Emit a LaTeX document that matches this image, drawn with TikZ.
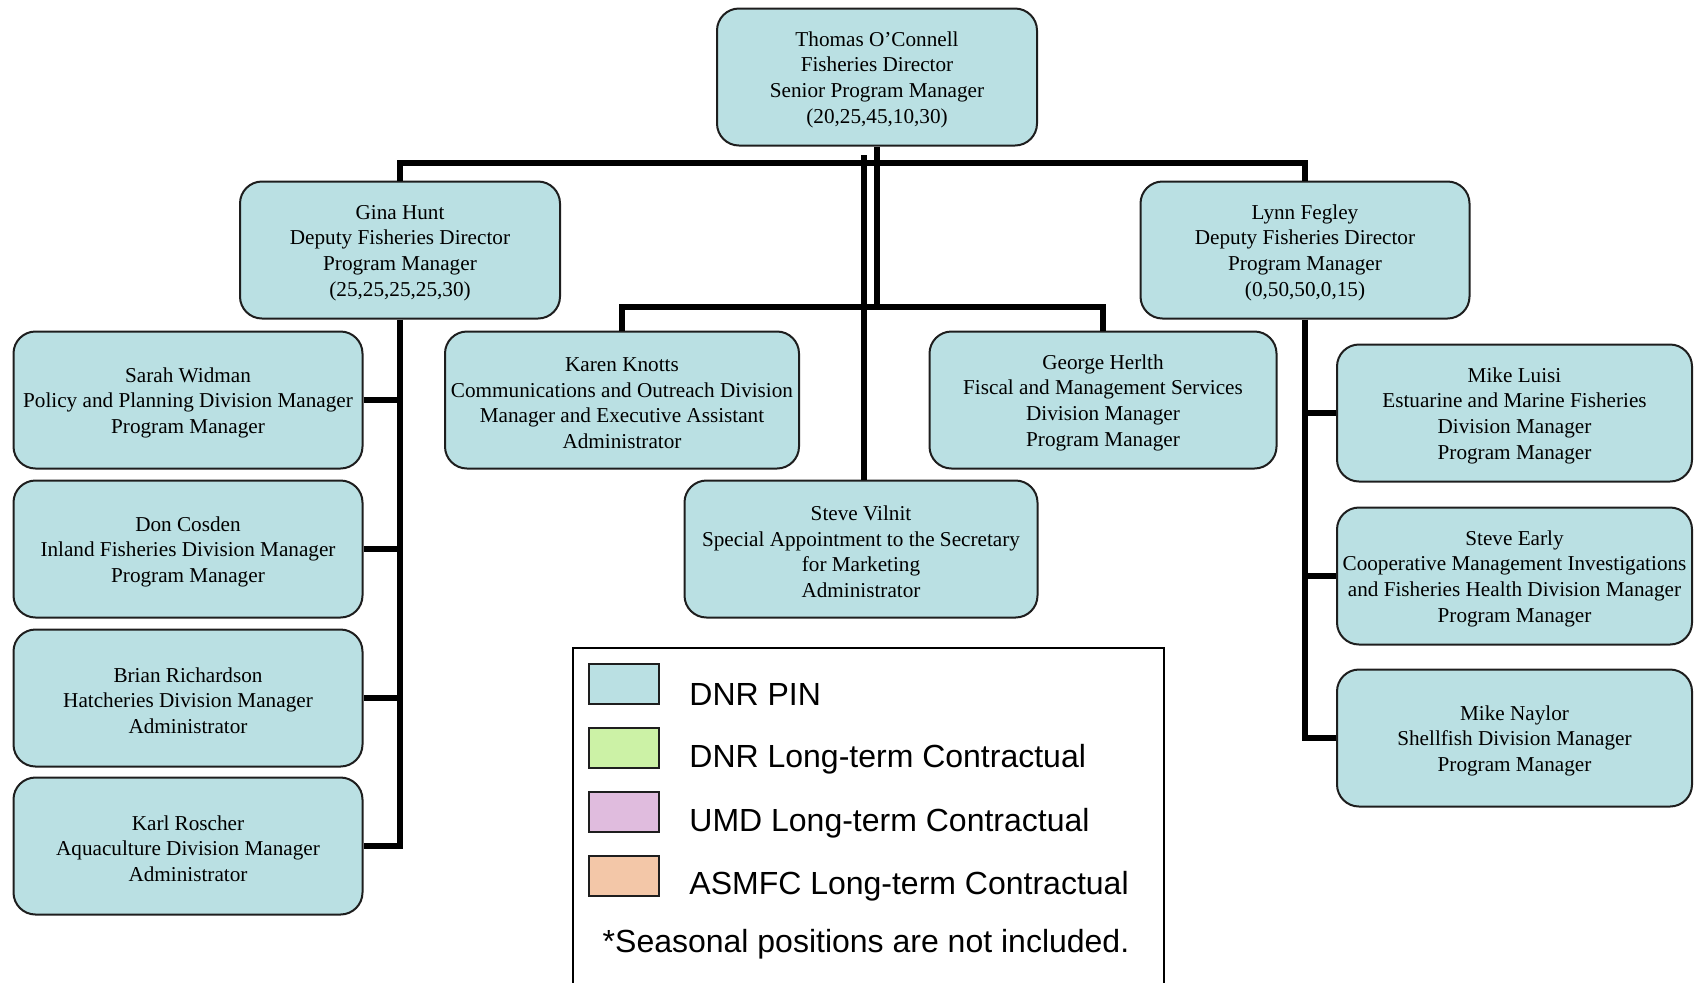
\documentclass[tikz,border=0pt]{standalone}
\usepackage{fontspec}
\setmainfont{Liberation Serif}
\newfontfamily\legendfont{Liberation Sans}
\definecolor{boxblue}{RGB}{186,224,227}
\definecolor{lgreen}{RGB}{204,242,166}
\definecolor{lpurple}{RGB}{224,188,222}
\definecolor{lpeach}{RGB}{243,199,168}
\definecolor{edgegray}{RGB}{30,30,30}
\newcommand{\fl}{\rule{0pt}{10pt}}
\tikzset{
  orgbox/.style={draw=edgegray, line width=1pt, fill=boxblue, rounded corners=11pt,
    minimum height=68.5pt, align=center, inner sep=1pt,
    font=\fontsize{10.6}{12.8}\selectfont},
  conn/.style={line width=2.6pt, black},
  swatch/.style={draw=edgegray, line width=0.9pt, minimum width=35pt, minimum height=20pt, inner sep=0pt},
  legtext/.style={anchor=west, font=\legendfont\fontsize{16}{18}\selectfont, inner sep=0pt}
}
\begin{document}
\begin{tikzpicture}[x=0.5pt,y=-0.5pt]
\useasboundingbox (0,0) rectangle (1695,982);
% nodes
\node[orgbox, minimum width=160pt] (thomas) at (877,77) {\fl Thomas O'Connell\\Fisheries Director\\Senior Program Manager\\(20,25,45,10,30)};
\node[orgbox, minimum width=160pt] (gina) at (400,250) {\fl Gina Hunt\\Deputy Fisheries Director\\Program Manager\\(25,25,25,25,30)};
\node[orgbox, minimum width=164.5pt] (lynn) at (1305,250) {\fl Lynn Fegley\\Deputy Fisheries Director\\Program Manager\\(0,50,50,0,15)};
\node[orgbox, minimum width=177pt] (karen) at (622,400) {\fl Karen Knotts\\Communications and Outreach Division\\Manager and Executive Assistant\\Administrator};
\node[orgbox, minimum width=173.5pt] (george) at (1103,400) {\fl George Herlth\\Fiscal and Management Services\\Division Manager\\Program Manager};
\node[orgbox, minimum width=176.5pt] (vilnit) at (861,549) {\fl Steve Vilnit\\Special Appointment to the Secretary\\for Marketing\\Administrator};
\node[orgbox, minimum width=174.5pt] (sarah) at (188,400) {\fl Sarah Widman\\Policy and Planning Division Manager\\Program Manager};
\node[orgbox, minimum width=174.5pt] (don) at (188,549) {\fl Don Cosden\\Inland Fisheries Division Manager\\Program Manager};
\node[orgbox, minimum width=174.5pt] (brian) at (188,698) {\fl Brian Richardson\\Hatcheries Division Manager\\Administrator};
\node[orgbox, minimum width=174.5pt] (karl) at (188,846) {\fl Karl Roscher\\Aquaculture Division Manager\\Administrator};
\node[orgbox, minimum width=177.5pt] (luisi) at (1514.5,413) {\fl Mike Luisi\\Estuarine and Marine Fisheries\\Division Manager\\Program Manager};
\node[orgbox, minimum width=177.5pt] (early) at (1514.5,576) {\fl Steve Early\\Cooperative Management Investigations\\and Fisheries Health Division Manager\\Program Manager};
\node[orgbox, minimum width=177.5pt] (naylor) at (1514.5,738) {\fl Mike Naylor\\Shellfish Division Manager\\Program Manager};
% connector helpers
\coordinate (ub) at (0,163);
\coordinate (lb) at (0,307);
\coordinate (vtop) at (864,155);
% connectors
\draw[conn] (gina.north) -- (gina.north |- ub) -- (lynn.north |- ub) -- (lynn.north);
\draw[conn] (thomas.south) -- (thomas.south |- lb);
\draw[conn] (karen.north) -- (karen.north |- lb) -- (george.north |- lb) -- (george.north);
\draw[conn] (vtop) -- (vtop |- vilnit.north);
\draw[conn] (gina.south) -- (gina.south |- karl.east) -- (karl.east);
\draw[conn] (sarah.east) -- (sarah.east -| gina.south);
\draw[conn] (don.east) -- (don.east -| gina.south);
\draw[conn] (brian.east) -- (brian.east -| gina.south);
\draw[conn] (lynn.south) -- (lynn.south |- naylor.west) -- (naylor.west);
\draw[conn] (luisi.west) -- (luisi.west -| lynn.south);
\draw[conn] (early.west) -- (early.west -| lynn.south);
% legend
\draw[line width=1.2pt, black] (573,1000) -- (573,648) -- (1164,648) -- (1164,1000);
\node[swatch, fill=boxblue] (s1) at (624,684) {};
\node[swatch, fill=lgreen] (s2) at (624,748) {};
\node[swatch, fill=lpurple] (s3) at (624,812) {};
\node[swatch, fill=lpeach] (s4) at (624,876) {};
\node[legtext] (t1) at (689,694) {DNR PIN};
\node[legtext] (t2) at (689,759) {DNR Long-term Contractual};
\node[legtext] (t3) at (689,823) {UMD Long-term Contractual};
\node[legtext] (t4) at (689,886) {ASMFC Long-term Contractual};
\node[font=\legendfont\fontsize{16}{18}\selectfont, inner sep=0pt] (foot) at (866,944) {*Seasonal positions are not included.};
\end{tikzpicture}
\end{document}
